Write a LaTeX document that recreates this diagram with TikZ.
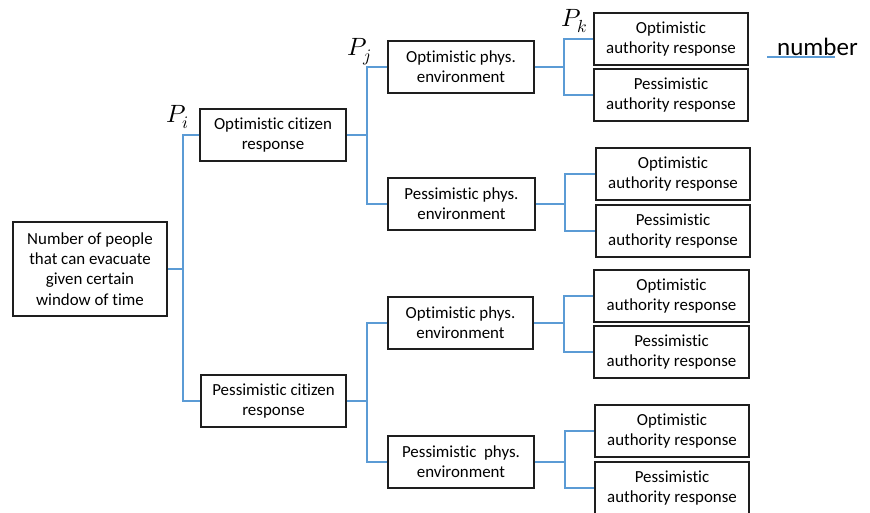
\documentclass[tikz,border=0pt]{standalone}
\usepackage{fontspec}
\setmainfont{Carlito}[Ligatures=NoCommon]
\usepackage{unicode-math}
\setmathfont{Latin Modern Math}
\definecolor{linkblue}{RGB}{91,155,213}
\definecolor{boxedge}{RGB}{30,30,30}
\begin{document}
\begin{tikzpicture}[x=1pt,y=-1pt,
  box/.style={draw=boxedge,line width=1.3pt,align=center,inner sep=0pt,
    font=\fontsize{16.9}{20.3}\selectfont},
  conn/.style={draw=linkblue,line width=1.5pt},
  plab/.style={anchor=base west,inner sep=0pt,font=\fontsize{25}{29}\selectfont}]
\useasboundingbox (0,0) rectangle (870,512);
% root
\node[box,minimum width=154pt,minimum height=94pt] (root) at (90,269)
  {Number of people\\that can evacuate\\given certain\\window of time};
% citizen level
\node[box,minimum width=146pt,minimum height=52pt] (oc) at (273,135) {Optimistic citizen\\response};
\node[box,minimum width=145pt,minimum height=52pt] (pc) at (273.5,401) {Pessimistic citizen\\response};
% environment level
\node[box,minimum width=146pt,minimum height=52pt] (ope1) at (461,67) {Optimistic phys.\\environment};
\node[box,minimum width=147pt,minimum height=52pt] (ppe1) at (461.5,204) {Pessimistic phys.\\environment};
\node[box,minimum width=145pt,minimum height=52pt] (ope2) at (460.5,323) {Optimistic phys.\\environment};
\node[box,minimum width=146pt,minimum height=52pt] (ppe2) at (461,462) {Pessimistic\ \ phys.\\environment};
% authority level
\node[box,minimum width=154pt,minimum height=52pt] (a1) at (671,39) {Optimistic\\authority response};
\node[box,minimum width=154pt,minimum height=52pt] (a2) at (671,95) {Pessimistic\\authority response};
\node[box,minimum width=154pt,minimum height=52pt] (a3) at (673,174) {Optimistic\\authority response};
\node[box,minimum width=154pt,minimum height=52pt] (a4) at (673,231) {Pessimistic\\authority response};
\node[box,minimum width=155pt,minimum height=52pt] (a5) at (671.5,296) {Optimistic\\authority response};
\node[box,minimum width=155pt,minimum height=52pt] (a6) at (671.5,352) {Pessimistic\\authority response};
\node[box,minimum width=154pt,minimum height=52pt] (a7) at (672,431) {Optimistic\\authority response};
\node[box,minimum width=154pt,minimum height=52pt] (a8) at (672,488) {Pessimistic\\authority response};
% split points
\coordinate (s0) at (183,269);
\coordinate (s1) at (367,135);
\coordinate (s2) at (367,401);
\coordinate (s3) at (564,67);
\coordinate (s4) at (565,204);
\coordinate (s5) at (564,323);
\coordinate (s6) at (565,462);
% connectors
\draw[conn] (root.east) -- (s0);
\draw[conn] (oc.west) -| (s0) |- (pc.west);
\draw[conn] (oc.east) -- (s1);
\draw[conn] (ope1.west) -| (s1) |- (ppe1.west);
\draw[conn] (pc.east) -- (s2);
\draw[conn] (ope2.west) -| (s2) |- (ppe2.west);
\draw[conn] (ope1.east) -- (s3);
\draw[conn] (a1.west) -| (s3) |- (a2.west);
\draw[conn] (ppe1.east) -- (s4);
\draw[conn] (a3.west) -| (s4) |- (a4.west);
\draw[conn] (ope2.east) -- (s5);
\draw[conn] (a5.west) -| (s5) |- (a6.west);
\draw[conn] (ppe2.east) -- (s6);
\draw[conn] (a7.west) -| (s6) |- (a8.west);
% probability labels
\node[plab] (pi) at (166,122) {$P_i$};
\node[plab] (pj) at (347,55) {$P_j$};
\node[plab] (pk) at (561,26) {$P_k$};
% legend
\node[anchor=base west,inner sep=0pt,font=\fontsize{25}{30}\selectfont] (num) at (777,55) {number};
\coordinate (l1) at (767,57);
\coordinate (l2) at (835,57);
\draw[conn,line width=1.6pt] (l1) -- (l2);
\end{tikzpicture}
\end{document}
